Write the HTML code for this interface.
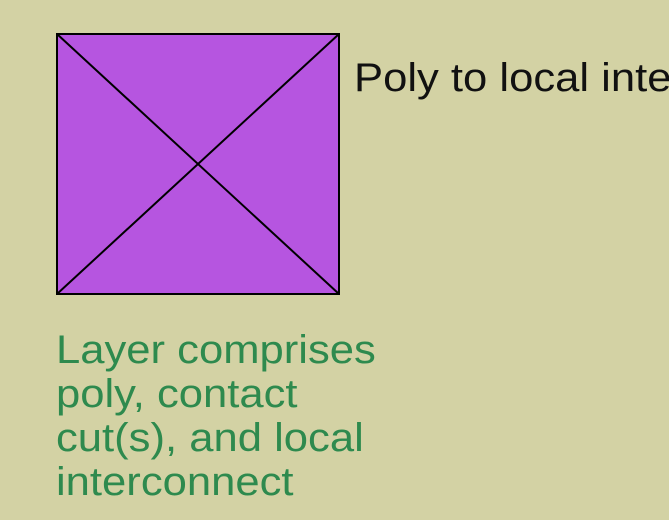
<!DOCTYPE html>
<html><head><meta charset="utf-8"><style>
html,body{margin:0;padding:0;width:669px;height:520px;overflow:hidden;background:#d3d2a4;font-family:"Liberation Sans",sans-serif;}
.t{position:absolute;white-space:nowrap;transform-origin:0 0;transform:scaleX(1.09);}
#clip{position:absolute;left:0;top:0;width:669px;height:520px;overflow:hidden;}
</style></head><body>
<div id="clip">
<svg style="position:absolute;left:0;top:0" width="669" height="520">
<rect x="57" y="34" width="282" height="260" fill="#b655e0" stroke="#000" stroke-width="2"/>
<line x1="57" y1="34" x2="339" y2="294" stroke="#000" stroke-width="2"/>
<line x1="339" y1="34" x2="57" y2="294" stroke="#000" stroke-width="2"/>
</svg>
<div style="position:absolute;left:0;top:0;width:669px;height:120px;overflow:hidden;">
<div class="t" style="left:354px;top:58px;font-size:40px;line-height:40px;color:#111;">Poly to local interconnect</div>
</div>
<div class="t" style="left:56px;top:328px;font-size:40px;line-height:44px;color:#2e8a4e;">Layer comprises<br>poly, contact<br>cut(s), and local<br>interconnect</div>
</div>
</body></html>
